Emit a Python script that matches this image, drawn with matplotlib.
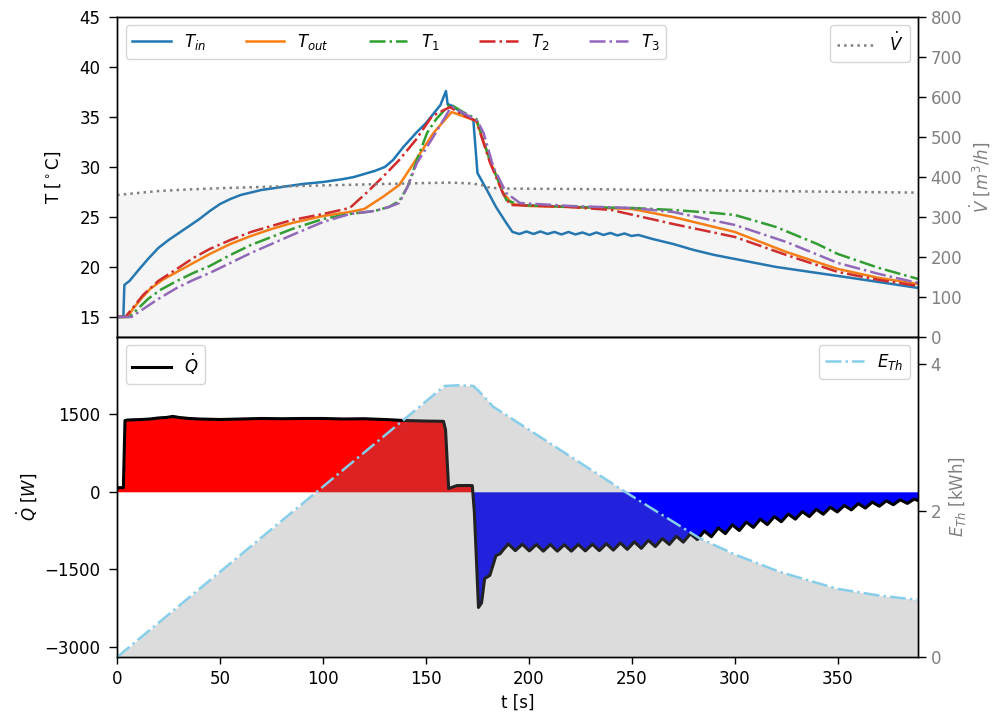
import numpy as np
import matplotlib.pyplot as plt

plt.rcParams['font.size'] = 12
plt.rcParams['axes.linewidth'] = 1.0
plt.rcParams['xtick.major.size'] = 5
plt.rcParams['ytick.major.size'] = 6
plt.rcParams['xtick.major.width'] = 1.0
plt.rcParams['ytick.major.width'] = 1.0
plt.rcParams['xtick.major.pad'] = 4.2
plt.rcParams['ytick.major.pad'] = 5
plt.rcParams['legend.handlelength'] = 2.3

# --- temperatures [degC] ---
t_in = [0, 3, 3.5, 6, 10, 15, 20, 25, 30, 35, 40, 45, 50, 55, 60, 70, 80, 90, 100,
        110, 115, 120, 125, 130, 134, 139, 145.6, 150, 153.5, 157, 159.7, 160.5,
        163, 168, 173, 175, 179.6, 184, 189, 192, 195.4, 198.8, 202.2, 205.6, 209,
        212.4, 215.8, 219.2, 222.6, 226, 229.4, 232.8, 236.2, 239.6, 243, 246.4,
        249.8, 253.2, 260, 270, 280, 290, 300, 320, 340, 360, 389]
T_in = [15.0, 15.0, 18.2, 18.6, 19.6, 20.8, 21.9, 22.7, 23.4, 24.1, 24.8, 25.6, 26.3,
        26.8, 27.2, 27.7, 28.0, 28.3, 28.5, 28.8, 29.0, 29.3, 29.6, 30.0, 30.7, 32.0,
        33.5, 34.4, 35.3, 36.2, 37.6, 36.3, 36.1, 35.3, 34.7, 29.4, 27.7, 26.0, 24.4,
        23.5, 23.3, 23.55, 23.3, 23.55, 23.3, 23.5, 23.25, 23.5, 23.25, 23.45, 23.2,
        23.45, 23.2, 23.4, 23.15, 23.35, 23.1, 23.2, 22.8, 22.3, 21.7, 21.2, 20.8,
        20.0, 19.4, 18.8, 17.9]

t_out = [0, 5, 8, 12, 16, 22, 29, 37, 45, 55, 65, 75, 85, 100, 113, 120, 129, 137,
         146, 153.6, 162.5, 174.5, 181, 187.5, 192, 200, 220, 250, 270, 300, 325,
         350, 370, 389]
T_out = [15.0, 15.0, 15.9, 16.9, 17.8, 18.7, 19.5, 20.4, 21.3, 22.3, 23.1, 23.8, 24.4,
         25.1, 25.5, 25.8, 27.0, 28.2, 31.0, 33.4, 35.5, 34.6, 30.7, 27.4, 26.3, 26.1,
         26.0, 25.8, 25.0, 23.5, 21.5, 19.8, 18.9, 18.3]

t_1 = [0, 6, 10, 15, 21, 29, 37, 45, 55, 65, 75, 85, 100, 113, 125, 132, 137, 141,
       145.6, 150.5, 155, 161.6, 168, 174.5, 181, 189, 195.6, 220, 250, 270, 290,
       300, 320, 340, 350, 370, 389]
T_1 = [15.0, 15.0, 15.8, 16.8, 17.7, 18.6, 19.4, 20.1, 21.2, 22.2, 23.0, 23.8, 24.8,
       25.3, 25.6, 26.0, 26.6, 28.0, 30.7, 33.4, 34.8, 36.3, 35.5, 34.8, 30.7, 26.7,
       26.2, 26.0, 25.9, 25.7, 25.4, 25.2, 24.0, 22.3, 21.3, 19.9, 18.8]

t_2 = [0, 4, 8, 12.6, 20, 29, 37, 45, 55, 65, 75, 85, 100, 113, 121, 129, 137, 145,
       153, 161.6, 168, 174.5, 181, 187.5, 191, 220, 240, 255, 270, 300, 325, 350,
       370, 389]
T_2 = [15.0, 15.0, 16.0, 17.2, 18.6, 19.8, 20.9, 21.8, 22.7, 23.5, 24.1, 24.7, 25.3,
       25.9, 27.4, 29.0, 30.7, 32.7, 35.1, 36.0, 35.2, 34.6, 30.5, 27.3, 26.2, 26.0,
       25.7, 25.0, 24.3, 23.0, 21.2, 19.5, 18.7, 18.1]

t_3 = [0, 7, 12, 20, 29, 37, 45, 55, 65, 75, 85, 100, 113, 125, 132, 137, 141, 145.6,
       153.5, 161.6, 163, 170, 175, 178, 182.7, 189, 195.6, 220, 250, 270, 300, 325,
       350, 370, 389]
T_3 = [15.0, 15.0, 15.7, 16.8, 17.9, 18.7, 19.4, 20.4, 21.4, 22.3, 23.2, 24.5, 25.3,
       25.6, 26.0, 26.4, 28.0, 30.4, 33.0, 35.8, 36.0, 35.2, 34.6, 33.4, 30.0, 27.4,
       26.4, 26.1, 25.9, 25.5, 24.2, 22.5, 20.4, 19.3, 18.4]

# --- volume flow [m^3/h] ---
t_v = [0, 10, 20, 35, 50, 75, 100, 125, 150, 162, 172, 177, 181, 190, 220, 259, 300,
       350, 389]
V = [355, 360, 365, 369, 372, 376, 379, 382, 385, 386, 384, 380, 373, 371, 370, 368,
     366, 363, 361]

# --- heat flow [W] ---
t_q = [0, 3, 3.8, 5, 8, 12, 16, 20, 24, 27, 30, 35, 40, 50, 60, 70, 80, 90, 100, 110,
       120, 130, 140, 150, 158.5, 159.5, 161, 165, 170, 172.5, 173.5, 175.5, 177, 178.5,
       181, 184, 186, 188,
       190, 193.4, 196.8, 200.2, 203.6, 207, 210.4, 213.8, 217.2, 220.6, 224, 227.4,
       230.8, 234.2, 237.6, 241, 244.4, 247.8, 251.2, 254.6, 258, 261.4, 264.8, 268.2,
       271.6, 275, 278.4, 281.8, 285.2, 288.6, 292, 295.4, 298.8, 302.2, 305.6, 309,
       312.4, 315.8, 319.2, 322.6, 326, 329.4, 332.8, 336.2, 339.6, 343, 346.4, 349.8,
       353.2, 356.6, 360, 363.4, 366.8, 370.2, 373.6, 377, 380.4, 383.8, 387.2, 389]
Q = [80, 80, 1380, 1390, 1395, 1400, 1410, 1430, 1440, 1460, 1440, 1420, 1410, 1400,
     1410, 1420, 1415, 1420, 1420, 1410, 1415, 1400, 1380, 1370, 1365, 1200, 64, 120,
     122, 120, -400, -2240, -2150, -1680, -1620, -1235, -1200, -1100,
     -1010, -1140, -1015, -1145, -1020, -1150, -1020, -1150, -1025, -1150, -1020, -1145,
     -1015, -1140, -1005, -1130, -990, -1115, -970, -1095, -940, -1060, -905, -1020,
     -860, -975, -815, -925, -760, -870, -700, -810, -640, -750, -585, -690,
     -530, -635, -480, -580, -430, -530, -385, -480, -340, -435, -300, -390,
     -265, -350, -230, -315, -200, -280, -175, -250, -155, -225, -140, -170]

# --- thermal energy [kWh] ---
t_e = [0, 159, 166, 173, 176, 182.5, 247.6, 283, 300, 322, 350, 370, 389]
E = [0.0, 3.70, 3.71, 3.70, 3.62, 3.42, 2.24, 1.62, 1.40, 1.16, 0.93, 0.84, 0.78]

fig = plt.figure(figsize=(9.93, 7.13), dpi=100)
ax1 = fig.add_axes([0.118, 0.5275, 0.8065, 0.4485])
ax2 = fig.add_axes([0.118, 0.0785, 0.8065, 0.449], sharex=ax1)

# top: temperatures + volume flow
ax1.plot(t_in, T_in, color='C0', lw=1.8, label='$T_{in}$')
ax1.plot(t_out, T_out, color='C1', lw=1.8, label='$T_{out}$')
ax1.plot(t_1, T_1, color='C2', lw=1.8, ls='-.', label='$T_1$')
ax1.plot(t_2, T_2, color='C3', lw=1.8, ls='-.', label='$T_2$')
ax1.plot(t_3, T_3, color='C4', lw=1.8, ls='-.', label='$T_3$')
ax1.set_ylim(13, 45)
ax1.set_ylabel('T [$^\\circ$C]', labelpad=12)
ax1.tick_params(axis='x', bottom=False, labelbottom=False)
ax1.tick_params(axis='y', pad=6)
ax1.legend(loc='upper left', ncol=5, columnspacing=2.4)

ax1b = ax1.twinx()
ax1b.plot(t_v, V, color='gray', ls=':', lw=1.8, label='$\\dot{V}$')
ax1b.fill_between(t_v, 0, V, color='gray', alpha=0.08, lw=0)
ax1b.set_ylim(0, 800)
ax1b.set_ylabel('$\\dot{V}$ [$m^3/h$]', color='gray')
ax1b.tick_params(axis='y', labelcolor='gray', pad=3)
ax1b.legend(loc='upper right')

# bottom: heat flow + energy
Qa = np.array(Q)
ax2.fill_between(t_q, 0, Qa, where=Qa > 0, color='red', interpolate=True, lw=0)
ax2.fill_between(t_q, 0, Qa, where=Qa < 0, color='blue', interpolate=True, lw=0)
ax2.plot(t_q, Q, color='black', lw=2.2, label='$\\dot{Q}$')
ax2.set_ylim(-3200, 3000)
ax2.set_yticks([-3000, -1500, 0, 1500])
ax2.set_ylabel('$\\dot{Q}$ [$W$]')
ax2.set_xlabel('t [s]')
ax2.set_xlim(0, 389)
ax2.tick_params(axis='y', pad=6)
ax2.legend(loc='upper left')

ax2b = ax2.twinx()
ax2b.plot(t_e, E, color='skyblue', ls='-.', lw=1.8, label='$E_{Th}$')
ax2b.fill_between(t_e, 0, E, color='gray', alpha=0.27, lw=0)
ax2b.set_ylim(0, 4.37)
ax2b.set_yticks([0, 2, 4])
ax2b.set_ylabel('$E_{Th}$ [kWh]', color='gray')
ax2b.tick_params(axis='y', labelcolor='gray', pad=3)
ax2b.legend(loc='upper right')

fig.savefig('out.png', dpi=100)
